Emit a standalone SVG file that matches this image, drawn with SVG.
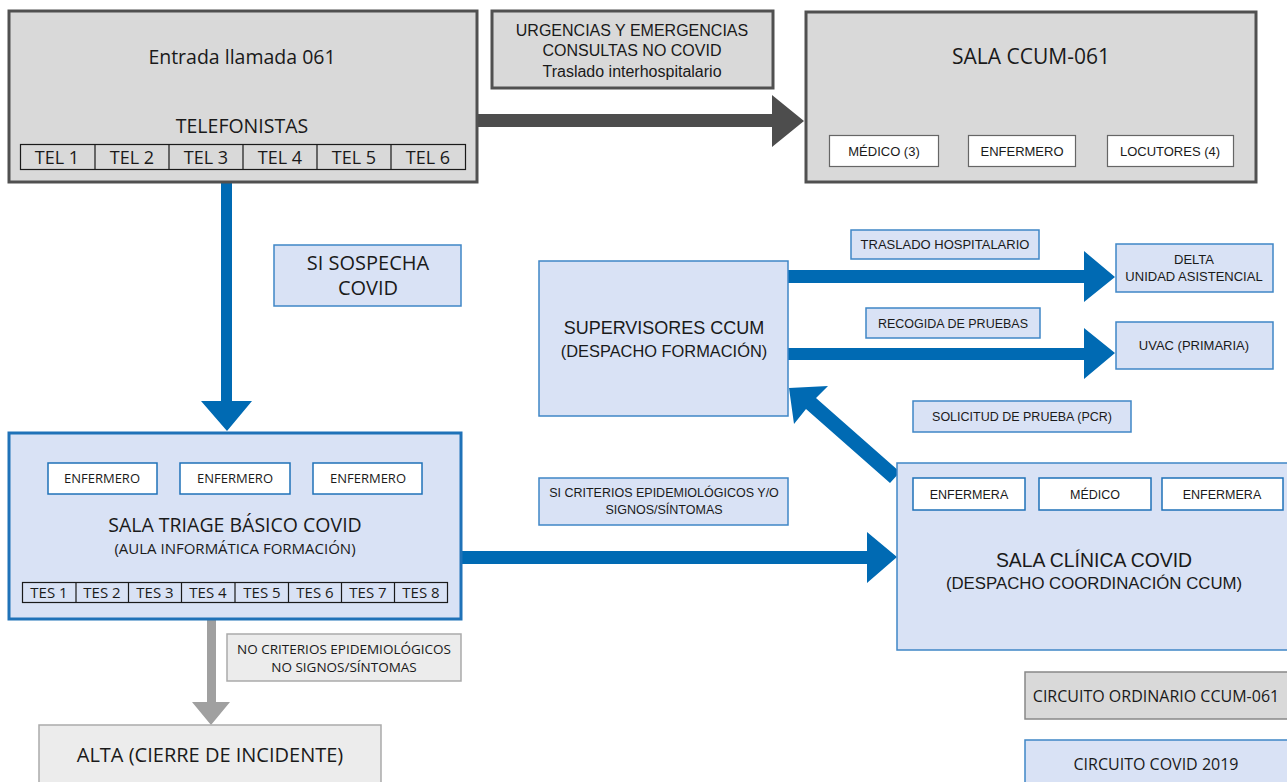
<svg xmlns="http://www.w3.org/2000/svg" width="1287" height="782" viewBox="0 0 1287 782">
<style>
text{font-family:"Open Sans","Liberation Sans",sans-serif;fill:#1a1a1a;text-anchor:middle}
.n{font-family:"Liberation Sans",Arial,sans-serif;font-size:13px}
.gbox{fill:#d9d9d9;stroke:#505050;stroke-width:3}
.bbox{fill:#d9e2f5;stroke:#1f72b8;stroke-width:3}
.blab{fill:#d9e2f5;stroke:#3f86c6;stroke-width:1.5}
.wbox{fill:#fff;stroke:#1f72b8;stroke-width:1.5}
.wgbox{fill:#fff;stroke:#666;stroke-width:1.2}
.cell{fill:none;stroke:#1a1a1a;stroke-width:1.2}
.lgray{fill:#ececec;stroke:#aaa;stroke-width:1.5}
.ab{fill:#006ab3}
.ad{fill:#4d4d4d}
.ag{fill:#a0a0a0}
</style>
<g id="connectors">
<polygon class="ad" points="478,114 772,114 772,95 804,121 772,147 772,127 478,127"/>
<polygon class="ab" points="221,183 232,183 232,401 252,401 227,431 201,401 221,401"/>
<polygon class="ab" points="788,270 1084,270 1084,251 1115,277 1084,302 1084,283 788,283"/>
<polygon class="ab" points="788,348 1084,348 1084,328 1115,353 1084,379 1084,360 788,360"/>
<polygon class="ab" points="462,551 867,551 867,532 897,557 867,583 867,564 462,564"/>
<polygon class="ab" points="789,388 828,386 816,398 900,472 890,483 806,409 794,424"/>
<polygon class="ag" points="207,619 216,619 216,702 230,702 211,725 192,702 207,702"/>
</g>
<g id="entrada">
<rect class="gbox" x="9" y="11" width="468" height="171"/>
<text x="242" y="64" font-size="19.5">Entrada llamada 061</text>
<text x="242" y="133" font-size="19.5">TELEFONISTAS</text>
<rect class="cell" x="20.5" y="144.5" width="445" height="25"/>
<path class="cell" d="M95 144.5V169.5M169 144.5V169.5M243 144.5V169.5M317 144.5V169.5M391 144.5V169.5"/>
<text x="57" y="164" font-size="18">TEL 1</text>
<text x="132" y="164" font-size="18">TEL 2</text>
<text x="206" y="164" font-size="18">TEL 3</text>
<text x="280" y="164" font-size="18">TEL 4</text>
<text x="354" y="164" font-size="18">TEL 5</text>
<text x="428" y="164" font-size="18">TEL 6</text>
</g>
<g id="urgencias">
<rect class="gbox" x="492" y="11" width="281" height="77"/>
<text class="n" x="632" y="36" style="font-size:16px">URGENCIAS Y EMERGENCIAS</text>
<text class="n" x="632" y="56" style="font-size:16px">CONSULTAS NO COVID</text>
<text class="n" x="632" y="77" style="font-size:16px">Traslado interhospitalario</text>
</g>
<g id="sala-ccum">
<rect class="gbox" x="806" y="12" width="450" height="170"/>
<text x="1031" y="64" font-size="21">SALA CCUM-061</text>
<rect class="wgbox" x="829.5" y="135.5" width="109" height="31"/>
<text class="n" x="884" y="156">MÉDICO (3)</text>
<rect class="wgbox" x="968.5" y="135.5" width="107" height="31"/>
<text class="n" x="1022" y="156">ENFERMERO</text>
<rect class="wgbox" x="1107.5" y="135.5" width="126" height="31"/>
<text class="n" x="1170" y="156">LOCUTORES (4)</text>
</g>
<g id="sospecha">
<rect class="blab" x="274" y="245" width="187" height="61"/>
<text x="368" y="270" font-size="20">SI SOSPECHA</text>
<text x="368" y="295" font-size="20">COVID</text>
</g>
<g id="supervisores">
<rect class="blab" x="539" y="261" width="249" height="155"/>
<text class="n" x="664" y="334" style="font-size:18px">SUPERVISORES CCUM</text>
<text class="n" x="664" y="357" style="font-size:16.4px">(DESPACHO FORMACIÓN)</text>
</g>
<g id="traslado">
<rect class="blab" x="851" y="230" width="188" height="29"/>
<text class="n" x="945" y="249">TRASLADO HOSPITALARIO</text>
</g>
<g id="recogida">
<rect class="blab" x="866" y="308" width="174" height="30"/>
<text class="n" x="953" y="328" style="font-size:12.5px">RECOGIDA DE PRUEBAS</text>
</g>
<g id="solicitud">
<rect class="blab" x="913" y="401" width="218" height="31"/>
<text class="n" x="1022" y="421" style="font-size:12.5px">SOLICITUD DE PRUEBA (PCR)</text>
</g>
<g id="delta">
<rect class="blab" x="1116" y="244" width="157" height="48"/>
<text class="n" x="1194" y="264">DELTA</text>
<text class="n" x="1194" y="281">UNIDAD ASISTENCIAL</text>
</g>
<g id="uvac">
<rect class="blab" x="1116" y="322" width="157" height="47"/>
<text class="n" x="1194" y="350">UVAC (PRIMARIA)</text>
</g>
<g id="triage">
<rect class="bbox" x="9" y="433" width="452" height="186"/>
<rect class="wbox" x="48" y="463" width="109" height="31"/>
<text x="102" y="483" font-size="13">ENFERMERO</text>
<rect class="wbox" x="180" y="463" width="110" height="31"/>
<text x="235" y="483" font-size="13">ENFERMERO</text>
<rect class="wbox" x="313" y="463" width="109" height="31"/>
<text x="368" y="483" font-size="13">ENFERMERO</text>
<text x="235" y="532" font-size="19.5">SALA TRIAGE BÁSICO COVID</text>
<text x="235" y="554" font-size="15">(AULA INFORMÁTICA FORMACIÓN)</text>
<rect class="cell" x="22.5" y="582.5" width="425" height="20"/>
<path class="cell" d="M76 582.5V602.5M128.5 582.5V602.5M181.5 582.5V602.5M235 582.5V602.5M288.5 582.5V602.5M341.5 582.5V602.5M394.5 582.5V602.5"/>
<text x="49" y="598" font-size="15">TES 1</text>
<text x="102" y="598" font-size="15">TES 2</text>
<text x="155" y="598" font-size="15">TES 3</text>
<text x="208" y="598" font-size="15">TES 4</text>
<text x="262" y="598" font-size="15">TES 5</text>
<text x="315" y="598" font-size="15">TES 6</text>
<text x="368" y="598" font-size="15">TES 7</text>
<text x="421" y="598" font-size="15">TES 8</text>
</g>
<g id="criterios">
<rect class="blab" x="539" y="478" width="249" height="47"/>
<text class="n" x="664" y="497" style="font-size:12.5px">SI CRITERIOS EPIDEMIOLÓGICOS Y/O</text>
<text class="n" x="664" y="514" style="font-size:12.5px">SIGNOS/SÍNTOMAS</text>
</g>
<g id="clinica">
<rect class="blab" x="897" y="463" width="395" height="187"/>
<rect class="wbox" x="913" y="478" width="112" height="32"/>
<text class="n" x="969" y="499" style="font-size:12.5px">ENFERMERA</text>
<rect class="wbox" x="1039" y="478" width="112" height="32"/>
<text class="n" x="1095" y="499" style="font-size:12.5px">MÉDICO</text>
<rect class="wbox" x="1162" y="478" width="121" height="32"/>
<text class="n" x="1222" y="499" style="font-size:12.5px">ENFERMERA</text>
<text class="n" x="1094" y="567" style="font-size:19.4px">SALA CLÍNICA COVID</text>
<text class="n" x="1094" y="589" style="font-size:16.8px">(DESPACHO COORDINACIÓN CCUM)</text>
</g>
<g id="no-criterios">
<rect class="lgray" x="227" y="634" width="234" height="47"/>
<text x="344" y="654" font-size="13.5">NO CRITERIOS EPIDEMIOLÓGICOS</text>
<text x="344" y="672" font-size="13.5">NO SIGNOS/SÍNTOMAS</text>
</g>
<g id="alta">
<rect class="lgray" x="39" y="725" width="342" height="62"/>
<text x="210" y="762" font-size="20">ALTA (CIERRE DE INCIDENTE)</text>
</g>
<g id="legend">
<rect x="1025" y="672" width="266" height="47" fill="#d9d9d9" stroke="#888" stroke-width="1.5"/>
<text x="1156" y="702" font-size="16">CIRCUITO ORDINARIO CCUM-061</text>
<rect x="1025" y="740" width="266" height="50" fill="#d9e2f5" stroke="#3f86c6" stroke-width="1.5"/>
<text x="1156" y="770" font-size="16">CIRCUITO COVID 2019</text>
</g>
</svg>
